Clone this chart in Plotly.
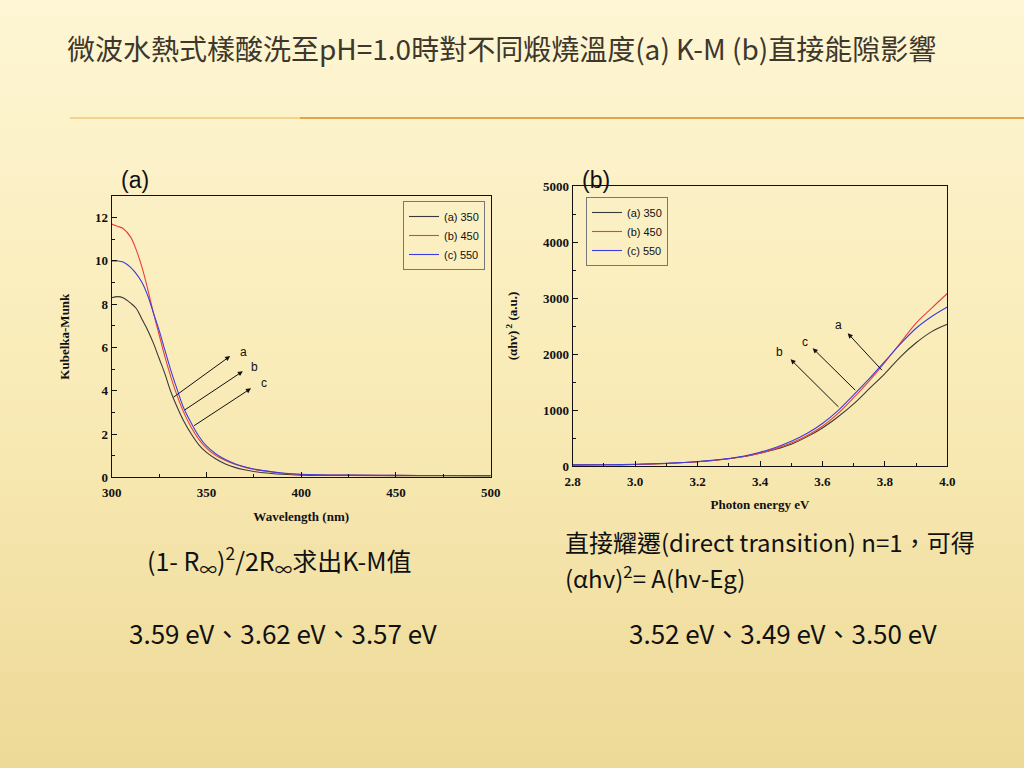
import plotly.graph_objects as go

# ---------------- data: (a) Kubelka-Munk vs wavelength ----------------
wl = [300, 303, 306, 310, 313, 316, 319, 322, 325, 328, 331, 334, 338, 342, 346,
      350, 355, 360, 365, 370, 375, 380, 390, 400, 425, 450, 475, 500]
km_350 = [8.3, 8.35, 8.3, 8.05, 7.8, 7.3, 6.8, 6.2, 5.5, 4.8, 4.0, 3.35, 2.6, 2.0, 1.5,
          1.15, 0.85, 0.62, 0.46, 0.35, 0.27, 0.21, 0.14, 0.1, 0.08, 0.07, 0.07, 0.06]
km_450 = [11.7, 11.6, 11.5, 11.1, 10.5, 9.7, 8.7, 7.6, 6.6, 5.6, 4.7, 3.9, 3.0, 2.3, 1.75,
          1.35, 1.0, 0.78, 0.6, 0.47, 0.37, 0.3, 0.19, 0.13, 0.1, 0.09, 0.08, 0.08]
km_550 = [10.0, 10.0, 9.95, 9.7, 9.4, 9.0, 8.4, 7.6, 6.8, 5.9, 5.0, 4.2, 3.2, 2.5, 1.9,
          1.45, 1.08, 0.82, 0.63, 0.49, 0.38, 0.31, 0.2, 0.14, 0.1, 0.09, 0.08, 0.08]

# ---------------- data: (b) (alpha h nu)^2 vs photon energy ----------------
ev = [2.8, 2.9, 3.0, 3.1, 3.2, 3.3, 3.35, 3.4, 3.45, 3.5, 3.55, 3.6, 3.65, 3.7,
      3.75, 3.8, 3.85, 3.9, 3.95, 4.0]
ahv_350 = [20, 22, 28, 45, 75, 130, 170, 230, 300, 390, 520, 680, 880, 1110,
           1380, 1650, 1950, 2200, 2400, 2530]
ahv_450 = [20, 22, 28, 45, 75, 130, 170, 230, 310, 410, 540, 710, 940, 1220,
           1520, 1850, 2200, 2550, 2820, 3080]
ahv_550 = [20, 22, 30, 48, 80, 135, 180, 245, 330, 440, 580, 760, 990, 1270,
           1560, 1870, 2180, 2460, 2670, 2840]

names = ["(a) 350", "(b) 450", "(c) 550"]
colors = ["#3a3a3a", "#e8403a", "#3c3ce0"]

title_text = "微波水熱式樣酸洗至pH=1.0時對不同煅燒溫度(a) K-M (b)直接能隙影響"
km_formula = "(1- R<sub>∞</sub>)<sup>2</sup>/2R<sub>∞</sub>求出K-M值"
direct_line1 = "直接耀遷(direct transition) n=1，可得"
direct_line2 = "(αhv)<sup>2</sup>= A(hv-Eg)"
km_gaps = "3.59 eV、3.62 eV、3.57 eV"
direct_gaps = "3.52 eV、3.49 eV、3.50 eV"

W, H = 1024, 768
def px(x):
    return x / W
def py(y):
    return 1 - y / H

fig = go.Figure()
for nm, c, ys in zip(names, colors, [km_350, km_450, km_550]):
    fig.add_trace(go.Scatter(x=wl, y=ys, mode="lines", name=nm, line=dict(color=c, width=1.1),
                             line_shape="spline", xaxis="x", yaxis="y", legend="legend"))
for nm, c, ys in zip(names, colors, [ahv_350, ahv_450, ahv_550]):
    fig.add_trace(go.Scatter(x=ev, y=ys, mode="lines", name=nm, line=dict(color=c, width=1.1),
                             line_shape="spline", xaxis="x2", yaxis="y2", legend="legend2"))

tickfont = dict(family="Liberation Serif", size=13, color="#111", weight="bold")
titlefont = dict(family="Liberation Serif", size=13, color="#111", weight="bold")
axis_common = dict(showline=True, linecolor="#111", linewidth=1, mirror=True,
                   ticks="inside", ticklen=5, tickcolor="#111", showgrid=False,
                   zeroline=False, tickfont=tickfont, automargin=False)

# background gradient bands (decoration)
shapes = []
top = (254, 246, 212)
mid = (250, 236, 184)
bot = (238, 218, 152)
n = 48
for i in range(n):
    t = i / (n - 1)
    if t < 0.5:
        a, b, u = top, mid, t / 0.5
    else:
        a, b, u = mid, bot, (t - 0.5) / 0.5
    col = "rgb(%d,%d,%d)" % tuple(int(a[k] + (b[k] - a[k]) * u) for k in range(3))
    shapes.append(dict(type="rect", xref="paper", yref="paper", x0=0, x1=1,
                       y0=1 - (i + 1) / n, y1=1 - i / n, fillcolor=col, line_width=0,
                       layer="below"))
# orange rule under the title
shapes.append(dict(type="line", xref="paper", yref="paper", x0=px(70), x1=px(300),
                   y0=py(118), y1=py(118), line=dict(color="rgba(232,168,72,0.45)", width=2)))
shapes.append(dict(type="line", xref="paper", yref="paper", x0=px(300), x1=1,
                   y0=py(118), y1=py(118), line=dict(color="#e3a54a", width=2)))

annotations = []
# title
annotations.append(dict(text=title_text, x=px(65), y=py(48), xref="paper", yref="paper",
                        xanchor="left", yanchor="middle", showarrow=False,
                        font=dict(family="Noto Sans CJK TC", size=28, color="#3d372c")))
# panel labels
for lab, xx in [("(a)", 135), ("(b)", 596)]:
    annotations.append(dict(text=lab, x=px(xx), y=py(180), xref="paper", yref="paper",
                            xanchor="center", yanchor="middle", showarrow=False,
                            font=dict(family="Liberation Sans", size=23, color="#111")))
# bottom texts
def body(sz):
    return dict(family="Noto Sans CJK TC", size=sz, color="#111")
annotations += [
    dict(text=km_formula, x=px(145), y=py(560), xanchor="left", font=body(25)),
    dict(text=direct_line1, x=px(563), y=py(541), xanchor="left", font=body(24)),
    dict(text=direct_line2, x=px(563), y=py(577), xanchor="left", font=body(24)),
    dict(text=km_gaps, x=px(283), y=py(632), xanchor="center", font=body(26)),
    dict(text=direct_gaps, x=px(783), y=py(632), xanchor="center", font=body(26)),
]
for a in annotations[-5:]:
    a.update(xref="paper", yref="paper", yanchor="middle", showarrow=False)

# arrows on (a)
arr_font = dict(family="Liberation Sans", size=12, color="#111")
a_arrows = [("a", 331.8, 3.65, 362.5, 5.6, 366.6, 5.8),
            ("b", 337.8, 3.07, 369.2, 4.9, 372.6, 5.09),
            ("c", 342.7, 2.34, 373.5, 4.11, 377.8, 4.34)]
for lab, tx, ty, hx, hy, lx, ly in a_arrows:
    annotations.append(dict(x=hx, y=hy, ax=tx, ay=ty, xref="x", yref="y", axref="x", ayref="y",
                            showarrow=True, arrowhead=2, arrowsize=1, arrowwidth=1,
                            arrowcolor="#111", text=""))
    annotations.append(dict(x=lx, y=ly, xref="x", yref="y", text=lab, showarrow=False,
                            font=arr_font, xanchor="left"))
b_arrows = [("a", 3.795, 1684, 3.681, 2370, 3.651, 2518),
            ("c", 3.710, 1327, 3.569, 2102, 3.544, 2220),
            ("b", 3.656, 1030, 3.498, 1905, 3.462, 2030)]
for lab, tx, ty, hx, hy, lx, ly in b_arrows:
    annotations.append(dict(x=hx, y=hy, ax=tx, ay=ty, xref="x2", yref="y2", axref="x2", ayref="y2",
                            showarrow=True, arrowhead=2, arrowsize=1, arrowwidth=1,
                            arrowcolor="#111", text=""))
    annotations.append(dict(x=lx, y=ly, xref="x2", yref="y2", text=lab, showarrow=False,
                            font=arr_font))

legend_common = dict(bgcolor="rgba(255,255,255,0)", bordercolor="#777", borderwidth=1,
                     font=dict(family="Liberation Sans", size=11, color="#111"),
                     xanchor="right", yanchor="top", tracegroupgap=0, itemwidth=30)

fig.update_layout(
    width=W, height=H, autosize=False,
    margin=dict(l=0, r=0, t=0, b=0, autoexpand=False),
    paper_bgcolor="#fbefc0", plot_bgcolor="rgba(0,0,0,0)",
    shapes=shapes, annotations=annotations,
    showlegend=True,
    legend=dict(x=px(485), y=py(201), **legend_common),
    legend2=dict(x=px(668), y=py(197), **legend_common),
    xaxis=dict(domain=[px(111.7), px(490.7)], range=[300, 500], dtick=50, anchor="y",
               ticklabelstandoff=3,
               minor=dict(ticks="inside", dtick=25, ticklen=3, tickcolor="#111"),
               title=dict(text="Wavelength (nm)", font=titlefont, standoff=12), **axis_common),
    yaxis=dict(domain=[py(477.3), py(196)], range=[0, 13], dtick=2, anchor="x",
               minor=dict(ticks="inside", dtick=1, ticklen=3, tickcolor="#111"),
               title=dict(text="Kubelka-Munk", font=titlefont, standoff=22), **axis_common),
    xaxis2=dict(domain=[px(572.7), px(947.3)], range=[2.8, 4.0], dtick=0.2, anchor="y2",
                tickformat=".1f", ticklabelstandoff=3,
                minor=dict(ticks="inside", dtick=0.1, ticklen=3, tickcolor="#111"),
                title=dict(text="Photon energy eV", font=titlefont, standoff=12), **axis_common),
    yaxis2=dict(domain=[py(466), py(186)], range=[0, 5000], dtick=1000, anchor="x2",
                minor=dict(ticks="inside", dtick=500, ticklen=3, tickcolor="#111"),
                title=dict(text="(αhv)<sup> 2</sup> (a.u.)", font=titlefont, standoff=22),
                **axis_common),
)

fig.write_html("out.html", config={"displayModeBar": False},
               post_script="document.body.style.margin='0';document.body.style.overflow='hidden';")
